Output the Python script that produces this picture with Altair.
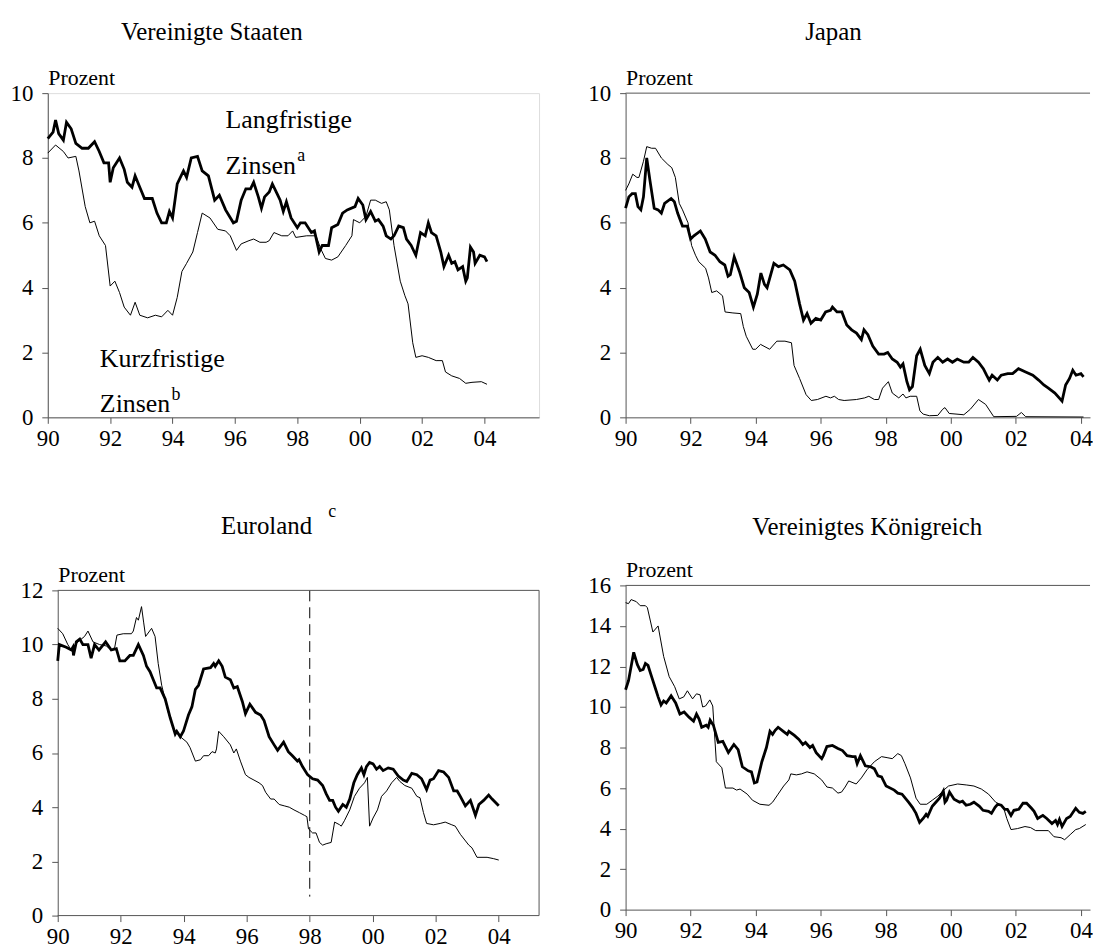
import altair as alt
import pandas as pd

FONT = "Liberation Serif, Times New Roman, DejaVu Serif, serif"
GREY = "#555555"
TICK_YEARS = [1990, 1992, 1994, 1996, 1998, 2000, 2002, 2004]

# ---------------- data (year, percent) ----------------
us_long = [(1990.0,8.6),(1990.17,8.8),(1990.25,9.17),(1990.35,8.75),(1990.5,8.55),(1990.6,9.1),(1990.75,8.9),(1990.9,8.45),(1991.1,8.3),(1991.3,8.3),
           (1991.5,8.5),(1991.65,8.2),(1991.8,7.85),(1991.95,7.85),(1992.0,7.25),(1992.1,7.7),(1992.3,8.0),(1992.45,7.65),(1992.55,7.25),(1992.7,7.1),
           (1992.8,7.45),(1992.95,7.1),(1993.1,6.75),(1993.35,6.75),(1993.5,6.3),(1993.65,6.0),(1993.8,6.0),(1993.9,6.35),(1994.0,6.15),(1994.15,7.2),
           (1994.35,7.6),(1994.45,7.4),(1994.6,8.0),(1994.8,8.05),(1994.95,7.6),(1995.15,7.45),(1995.35,6.7),(1995.5,6.85),(1995.7,6.4),(1995.95,6.0),
           (1996.05,6.05),(1996.2,6.7),(1996.35,7.05),(1996.5,7.05),(1996.6,7.25),(1996.75,6.8),(1996.85,6.45),(1996.95,6.8),(1997.1,6.95),(1997.2,7.2),
           (1997.35,6.9),(1997.45,6.7),(1997.55,6.35),(1997.65,6.65),(1997.8,6.15),(1998.0,5.85),(1998.1,6.0),(1998.25,6.0),(1998.45,5.7),(1998.55,5.75),
           (1998.7,5.1),(1998.8,5.3),(1999.0,5.3),(1999.1,5.85),(1999.3,5.95),(1999.45,6.3),(1999.6,6.4),(1999.85,6.5),(1999.95,6.75),(2000.1,6.55),
           (2000.2,6.1),(2000.35,6.35),(2000.5,6.05),(2000.6,6.1),(2000.75,5.9),(2000.85,5.6),(2001.0,5.5),(2001.1,5.6),(2001.25,5.9),(2001.4,5.85),
           (2001.5,5.5),(2001.65,5.3),(2001.8,5.0),(2001.95,5.7),(2002.1,5.6),(2002.2,6.0),(2002.3,5.7),(2002.45,5.6),(2002.6,5.1),(2002.7,4.65),
           (2002.85,5.0),(2002.95,4.75),(2003.05,4.8),(2003.15,4.55),(2003.3,4.65),(2003.4,4.2),(2003.45,4.3),(2003.55,5.25),(2003.65,5.1),(2003.7,4.75),
           (2003.85,5.0),(2004.0,4.95),(2004.08,4.8)]

us_short = [(1990.0,8.15),(1990.25,8.4),(1990.5,8.2),(1990.65,8.0),(1990.9,8.05),(1991.0,7.6),(1991.2,6.5),(1991.35,6.0),(1991.5,6.05),(1991.65,5.6),
            (1991.85,5.3),(1992.0,4.05),(1992.15,4.2),(1992.3,3.85),(1992.45,3.4),(1992.65,3.15),(1992.8,3.55),(1992.95,3.15),(1993.2,3.07),(1993.45,3.15),
            (1993.65,3.1),(1993.85,3.3),(1994.0,3.15),(1994.15,3.7),(1994.3,4.5),(1994.45,4.75),(1994.65,5.1),(1994.8,5.7),(1994.95,6.3),(1995.2,6.15),
            (1995.45,5.8),(1995.7,5.75),(1995.85,5.6),(1996.05,5.15),(1996.2,5.35),(1996.45,5.45),(1996.6,5.5),(1996.8,5.4),(1997.0,5.4),(1997.1,5.45),
            (1997.25,5.7),(1997.5,5.6),(1997.7,5.6),(1997.85,5.75),(1997.95,5.55),(1998.3,5.6),(1998.6,5.6),(1998.75,5.2),(1998.9,4.9),(1999.1,4.85),
            (1999.3,4.95),(1999.55,5.3),(1999.75,5.6),(1999.8,6.1),(2000.0,6.0),(2000.2,6.2),(2000.35,6.7),(2000.5,6.7),(2000.7,6.6),(2000.85,6.65),
            (2000.95,6.4),(2001.1,5.3),(2001.3,4.2),(2001.45,3.75),(2001.55,3.5),(2001.7,2.3),(2001.8,1.85),(2002.0,1.9),(2002.2,1.85),(2002.45,1.75),
            (2002.65,1.75),(2002.75,1.4),(2002.95,1.28),(2003.2,1.2),(2003.4,1.05),(2003.6,1.08),(2003.9,1.1),(2004.08,1.02)]

jp_long = [(1990.0,6.45),(1990.1,6.8),(1990.2,6.9),(1990.3,6.9),(1990.38,6.5),(1990.47,6.4),(1990.55,6.8),(1990.65,8.0),(1990.75,7.3),(1990.88,6.45),
           (1991.0,6.4),(1991.1,6.3),(1991.2,6.6),(1991.4,6.75),(1991.5,6.65),(1991.6,6.3),(1991.75,5.9),(1991.9,5.9),(1992.0,5.5),(1992.1,5.6),
           (1992.3,5.75),(1992.45,5.5),(1992.6,5.1),(1992.75,5.0),(1992.9,4.8),(1993.05,4.7),(1993.15,4.35),(1993.22,4.4),(1993.34,4.95),(1993.5,4.5),
           (1993.65,4.0),(1993.8,3.85),(1993.93,3.4),(1994.05,3.8),(1994.16,4.45),(1994.27,4.1),(1994.35,4.0),(1994.56,4.75),(1994.7,4.65),(1994.85,4.7),
           (1995.05,4.55),(1995.2,4.2),(1995.35,3.5),(1995.47,3.0),(1995.58,3.2),(1995.7,2.9),(1995.85,3.05),(1996.0,3.0),(1996.15,3.25),(1996.3,3.3),
           (1996.36,3.4),(1996.5,3.25),(1996.65,3.25),(1996.8,2.85),(1996.95,2.7),(1997.1,2.6),(1997.25,2.4),(1997.33,2.7),(1997.45,2.55),(1997.6,2.2),
           (1997.78,1.95),(1997.95,1.95),(1998.06,2.0),(1998.2,1.8),(1998.35,1.7),(1998.45,1.55),(1998.53,1.65),(1998.65,1.1),(1998.73,0.85),(1998.82,0.95),
           (1998.95,1.9),(1999.06,2.1),(1999.2,1.6),(1999.34,1.35),(1999.45,1.7),(1999.6,1.85),(1999.75,1.7),(1999.9,1.8),(2000.05,1.7),(2000.2,1.8),
           (2000.4,1.7),(2000.55,1.7),(2000.68,1.85),(2000.85,1.7),(2001.0,1.5),(2001.1,1.3),(2001.18,1.15),(2001.27,1.3),(2001.43,1.15),(2001.55,1.3),
           (2001.75,1.35),(2001.9,1.35),(2002.08,1.5),(2002.3,1.4),(2002.52,1.3),(2002.7,1.15),(2002.86,1.0),(2003.0,0.9),(2003.2,0.75),(2003.42,0.5),
           (2003.53,1.0),(2003.65,1.2),(2003.75,1.45),(2003.85,1.3),(2004.0,1.35),(2004.08,1.25)]

jp_short = [(1990.0,7.0),(1990.1,7.2),(1990.22,7.5),(1990.35,7.4),(1990.41,7.4),(1990.55,7.9),(1990.65,8.35),(1990.8,8.3),(1990.92,8.3),(1991.1,8.0),
            (1991.3,7.8),(1991.42,7.7),(1991.53,7.4),(1991.65,6.6),(1991.75,6.4),(1991.92,6.0),(1992.03,5.3),(1992.15,5.0),(1992.25,4.8),(1992.46,4.6),
            (1992.55,4.3),(1992.65,3.85),(1992.8,3.9),(1992.98,3.75),(1993.06,3.25),(1993.3,3.22),(1993.54,3.2),(1993.62,2.8),(1993.71,2.5),(1993.91,2.1),
            (1994.0,2.1),(1994.15,2.25),(1994.43,2.1),(1994.65,2.35),(1994.9,2.35),(1995.1,2.3),(1995.18,1.6),(1995.35,1.2),(1995.55,0.7),(1995.71,0.52),
            (1995.9,0.55),(1996.16,0.65),(1996.3,0.6),(1996.42,0.65),(1996.55,0.55),(1996.72,0.52),(1997.1,0.55),(1997.35,0.6),(1997.48,0.65),(1997.65,0.55),
            (1997.78,0.55),(1997.9,0.9),(1998.08,1.1),(1998.2,0.75),(1998.4,0.6),(1998.53,0.72),(1998.62,0.6),(1998.75,0.65),(1998.95,0.65),(1999.05,0.2),
            (1999.15,0.1),(1999.34,0.05),(1999.6,0.06),(1999.75,0.25),(1999.82,0.3),(1999.95,0.12),(2000.4,0.08),(2000.6,0.25),(2000.85,0.55),(2001.07,0.4),
            (2001.32,0.02),(2002.02,0.03),(2002.17,0.15),(2002.3,0.02),(2004.08,0.01)]

eu_long = [(1990.0,9.4),(1990.05,10.0),(1990.27,9.9),(1990.43,9.8),(1990.48,9.9),(1990.5,9.6),(1990.59,10.1),(1990.7,10.2),(1990.8,10.0),(1990.96,10.0),
           (1991.06,9.5),(1991.17,10.0),(1991.31,9.8),(1991.52,10.1),(1991.7,9.8),(1991.86,9.85),(1991.97,9.4),(1992.13,9.4),(1992.29,9.6),(1992.4,9.6),
           (1992.56,10.0),(1992.72,9.6),(1992.82,9.2),(1992.93,9.0),(1993.14,8.4),(1993.25,8.4),(1993.41,8.0),(1993.57,7.3),(1993.73,6.7),(1993.78,6.8),
           (1993.89,6.6),(1993.99,6.8),(1994.15,7.4),(1994.26,7.7),(1994.37,8.35),(1994.47,8.5),(1994.63,9.1),(1994.85,9.15),(1994.95,9.3),(1995.0,9.2),
           (1995.11,9.4),(1995.22,9.2),(1995.32,8.8),(1995.48,8.7),(1995.59,8.4),(1995.7,8.45),(1995.86,7.9),(1995.96,7.45),(1996.1,7.8),(1996.28,7.5),
           (1996.44,7.4),(1996.55,7.2),(1996.71,6.6),(1996.87,6.3),(1996.98,6.1),(1997.17,6.4),(1997.32,6.05),(1997.45,5.9),(1997.61,5.7),(1997.66,5.75),
           (1997.77,5.5),(1997.93,5.2),(1998.09,5.05),(1998.25,5.0),(1998.41,4.8),(1998.52,4.5),(1998.63,4.25),(1998.73,4.25),(1998.82,4.0),(1998.91,3.85),
           (1999.05,4.1),(1999.16,4.0),(1999.27,4.3),(1999.4,4.9),(1999.51,5.2),(1999.64,5.45),(1999.72,5.2),(1999.8,5.5),(1999.9,5.65),(2000.01,5.6),
           (2000.12,5.4),(2000.22,5.5),(2000.33,5.35),(2000.49,5.45),(2000.65,5.4),(2000.81,5.15),(2000.97,5.0),(2001.08,4.95),(2001.24,5.25),(2001.4,5.2),
           (2001.55,5.05),(2001.71,4.65),(2001.82,5.0),(2001.93,5.05),(2002.09,5.35),(2002.25,5.3),(2002.41,5.1),(2002.57,4.6),(2002.68,4.6),(2002.78,4.4),
           (2002.94,4.05),(2003.1,4.25),(2003.26,3.7),(2003.37,4.1),(2003.52,4.25),(2003.68,4.45),(2003.79,4.3),(2004.0,4.05)]

eu_short = [(1990.0,10.6),(1990.16,10.4),(1990.32,10.0),(1990.43,9.8),(1990.5,9.9),(1990.64,10.1),(1990.85,10.3),(1990.96,10.5),(1991.12,10.1),(1991.33,10.0),
            (1991.54,9.95),(1991.7,9.8),(1991.81,9.9),(1991.88,10.35),(1992.08,10.4),(1992.34,10.4),(1992.4,10.5),(1992.5,11.0),(1992.56,10.9),(1992.66,11.4),
            (1992.73,10.8),(1992.79,10.3),(1992.98,10.6),(1993.09,10.3),(1993.19,9.3),(1993.3,8.5),(1993.51,7.5),(1993.67,6.9),(1993.89,6.6),(1994.1,6.4),
            (1994.2,6.2),(1994.37,5.7),(1994.53,5.75),(1994.63,5.9),(1994.79,5.9),(1994.9,6.05),(1995.0,6.0),(1995.04,6.15),(1995.11,6.8),(1995.27,6.6),
            (1995.48,6.3),(1995.59,6.0),(1995.67,6.15),(1995.8,5.7),(1995.96,5.2),(1996.07,5.1),(1996.23,5.0),(1996.39,4.9),(1996.5,4.8),(1996.6,4.55),
            (1996.76,4.3),(1996.87,4.3),(1997.03,4.1),(1997.19,4.05),(1997.35,4.0),(1997.5,3.9),(1997.67,3.8),(1997.83,3.7),(1997.91,3.65),(1997.96,3.2),
            (1998.09,3.05),(1998.2,3.05),(1998.31,2.7),(1998.41,2.6),(1998.52,2.65),(1998.68,2.7),(1998.79,3.45),(1998.95,3.35),(1999.0,3.3),(1999.1,3.5),
            (1999.27,3.9),(1999.42,4.4),(1999.58,4.7),(1999.74,4.9),(1999.83,5.1),(1999.9,3.3),(2000.01,3.6),(2000.15,3.9),(2000.28,4.4),(2000.44,4.6),
            (2000.6,4.9),(2000.76,5.1),(2000.86,4.95),(2001.02,4.8),(2001.24,4.7),(2001.4,4.4),(2001.5,4.35),(2001.61,3.8),(2001.71,3.4),(2001.93,3.35),
            (2002.14,3.4),(2002.3,3.45),(2002.51,3.35),(2002.62,3.3),(2002.78,3.0),(2003.05,2.6),(2003.15,2.5),(2003.31,2.15),(2003.63,2.15),(2003.84,2.1),
            (2004.0,2.05)]

uk_long = [(1990.0,10.85),(1990.09,11.3),(1990.25,12.7),(1990.36,12.1),(1990.45,11.8),(1990.54,11.85),(1990.61,12.15),(1990.69,12.05),(1990.8,11.5),(1990.92,10.9),
           (1991.0,10.5),(1991.09,10.1),(1991.17,10.3),(1991.25,10.2),(1991.4,10.55),(1991.54,10.2),(1991.67,9.65),(1991.8,9.75),(1991.95,9.5),(1992.09,9.3),
           (1992.18,9.65),(1992.26,9.4),(1992.34,9.0),(1992.48,9.1),(1992.54,9.0),(1992.6,9.35),(1992.7,9.1),(1992.85,8.25),(1992.99,8.3),(1993.16,7.75),
           (1993.33,8.15),(1993.46,7.9),(1993.59,7.05),(1993.77,6.85),(1993.87,6.8),(1993.96,6.25),(1994.04,6.3),(1994.19,7.3),(1994.33,8.0),(1994.44,8.8),
           (1994.52,8.65),(1994.6,8.85),(1994.69,9.0),(1994.85,8.8),(1994.97,8.65),(1995.02,8.8),(1995.19,8.6),(1995.33,8.4),(1995.45,8.15),(1995.53,8.25),
           (1995.67,8.0),(1995.75,8.1),(1995.86,7.75),(1996.03,7.45),(1996.08,7.6),(1996.19,8.05),(1996.36,8.1),(1996.53,7.95),(1996.67,7.85),(1996.81,7.6),
           (1996.98,7.55),(1997.06,7.55),(1997.12,7.2),(1997.22,7.6),(1997.37,7.1),(1997.54,7.05),(1997.65,6.95),(1997.76,6.6),(1997.87,6.55),(1998.01,6.1),
           (1998.26,5.9),(1998.37,5.75),(1998.5,5.7),(1998.7,5.3),(1998.82,5.05),(1998.93,4.75),(1999.04,4.3),(1999.15,4.5),(1999.24,4.7),(1999.29,4.6),
           (1999.43,5.1),(1999.54,5.3),(1999.65,5.5),(1999.77,5.85),(1999.82,5.3),(1999.87,5.4),(1999.96,5.8),(2000.1,5.45),(2000.27,5.3),(2000.36,5.35),
           (2000.47,5.15),(2000.6,5.2),(2000.71,5.3),(2000.88,5.1),(2000.99,4.9),(2001.16,4.85),(2001.25,4.75),(2001.36,5.05),(2001.44,5.2),(2001.55,5.15),
           (2001.66,4.95),(2001.74,4.95),(2001.85,4.65),(2001.94,4.9),(2002.09,4.95),(2002.22,5.25),(2002.33,5.25),(2002.48,5.0),(2002.56,4.85),(2002.67,4.5),
           (2002.83,4.65),(2002.95,4.5),(2003.11,4.25),(2003.22,4.4),(2003.28,4.2),(2003.34,4.45),(2003.42,4.1),(2003.56,4.5),(2003.67,4.6),(2003.84,5.0),
           (2003.95,4.8),(2004.06,4.75),(2004.15,4.85)]

uk_short = [(1990.0,15.15),(1990.09,15.1),(1990.17,15.3),(1990.33,15.2),(1990.45,15.0),(1990.61,15.0),(1990.67,14.9),(1990.84,13.7),(1991.0,14.0),(1991.17,12.5),
            (1991.34,11.5),(1991.51,11.0),(1991.65,10.4),(1991.79,10.5),(1991.9,10.8),(1992.06,10.4),(1992.18,10.65),(1992.29,10.6),(1992.37,10.0),(1992.46,10.05),
            (1992.59,10.35),(1992.68,10.05),(1992.79,7.3),(1992.96,7.0),(1993.07,6.0),(1993.3,6.0),(1993.41,5.9),(1993.52,5.95),(1993.74,5.7),(1993.9,5.4),
            (1994.13,5.2),(1994.41,5.15),(1994.52,5.3),(1994.69,5.7),(1994.86,6.1),(1995.02,6.4),(1995.08,6.7),(1995.25,6.65),(1995.41,6.7),(1995.58,6.8),
            (1995.8,6.7),(1996.03,6.4),(1996.19,6.05),(1996.36,6.0),(1996.53,5.75),(1996.64,5.8),(1996.75,6.05),(1996.86,6.35),(1997.09,6.2),(1997.25,6.5),
            (1997.42,6.9),(1997.65,7.3),(1997.87,7.55),(1998.04,7.5),(1998.2,7.45),(1998.37,7.7),(1998.48,7.6),(1998.59,7.2),(1998.76,6.5),(1998.93,5.5),
            (1999.06,5.2),(1999.26,5.2),(1999.43,5.4),(1999.6,5.6),(1999.82,5.95),(1999.93,6.1),(2000.21,6.2),(2000.49,6.15),(2000.71,6.1),(2000.94,5.95),
            (2001.16,5.7),(2001.38,5.3),(2001.61,5.1),(2001.72,4.5),(2001.85,3.95),(2002.05,4.0),(2002.28,4.1),(2002.45,4.05),(2002.61,3.9),(2003.0,3.9),
            (2003.17,3.6),(2003.39,3.55),(2003.5,3.45),(2003.67,3.7),(2003.84,3.95),(2003.95,4.0),(2004.15,4.2)]

# annotation texts (US panel) and euro changeover year
us_labels = [("Langfristige", 1995.7, 8.94), ("Zinsen", 1995.7, 7.52),
             ("Kurzfristige", 1991.67, 1.55), ("Zinsen", 1991.67, 0.15)]
us_superscripts = [("a", 1995.7, 7.52), ("b", 1991.67, 0.15)]
euro_line = [(1998.0, 12.0, 0.7)]

ONE = pd.DataFrame({"k": [0]})


def to_df(pairs):
    return pd.DataFrame(pairs, columns=["year", "value"])


def marker(x, y):
    return alt.Chart(ONE).mark_point(opacity=0, size=1, filled=True).encode(
        x=alt.value(x), y=alt.value(y))


def pixel_text(text, x, y, size, align="center"):
    return alt.Chart(ONE).mark_text(text=text, font=FONT, fontSize=size, align=align,
                                    baseline="alphabetic", color="black").encode(
        x=alt.value(x), y=alt.value(y))


def hrule(x1, x2, y):
    return alt.Chart(ONE).mark_rule(color=GREY, strokeWidth=1).encode(
        x=alt.value(x1), x2=alt.value(x2), y=alt.value(y))


def vrule(x, y1, y2):
    return alt.Chart(ONE).mark_rule(color=GREY, strokeWidth=1).encode(
        x=alt.value(x), y=alt.value(y1), y2=alt.value(y2))


def panel(long_pairs, short_pairs, ymax, xmax, width, height, frame, extras,
          top, bottom, inset=0, left=39):
    xscale = alt.Scale(domain=[1990, xmax], nice=False, zero=False)
    if inset:
        xscale = alt.Scale(domain=[1990, xmax], nice=False, zero=False, range=[inset, width])
    x_enc = alt.X("year:Q", scale=xscale,
                  axis=alt.Axis(values=TICK_YEARS, labelExpr="substring(toString(datum.value), 2, 4)",
                                title=None, grid=False, tickSize=6, tickColor=GREY, domainColor=GREY,
                                domain=(inset == 0),
                                labelFont=FONT, labelFontSize=23, labelColor="black", labelPadding=4,
                                labelFlush=False, labelOverlap=False))
    y_axis = dict(values=list(range(0, ymax + 1, 2)), title="Prozent", titleAngle=0,
                  titleX=0, titleY=-9, titleAlign="left", titleBaseline="alphabetic",
                  titleFont=FONT, titleFontSize=22, titleFontWeight="normal",
                  titleColor="black", grid=False, tickSize=6, tickColor=GREY,
                  domainColor=GREY, labelFont=FONT, labelFontSize=23,
                  labelColor="black", labelPadding=9, labelOverlap=False)
    if inset:
        y_axis["offset"] = -inset
    y_enc = alt.Y("value:Q", scale=alt.Scale(domain=[0, ymax], nice=False, zero=True),
                  axis=alt.Axis(**y_axis))
    thin = alt.Chart(to_df(short_pairs)).mark_line(color="black", strokeWidth=1).encode(x=x_enc, y=y_enc)
    thick = alt.Chart(to_df(long_pairs)).mark_line(color="black", strokeWidth=2.8).encode(x=x_enc, y=y_enc)
    layers = [thin, thick] + extras + [marker(-left, -top), marker(-left, height + bottom)]
    if frame == "top":
        layers.append(hrule(0, width, 0))
    elif frame == "inset":
        layers += [hrule(inset, width, 0), hrule(inset, width, height), vrule(width, 0, height)]
    ch = alt.layer(*layers).properties(width=width, height=height)
    if frame != "box":
        ch = ch.properties(view=alt.ViewBackground(stroke="transparent"))
    return ch


# US annotations
lab_df = pd.DataFrame(us_labels, columns=["label", "year", "value"])
sup_df = pd.DataFrame(us_superscripts, columns=["label", "year", "value"])
us_text = alt.Chart(lab_df).mark_text(font=FONT, fontSize=26, align="left", baseline="alphabetic",
                                      color="black").encode(x="year:Q", y="value:Q", text="label:N")
us_sup = alt.Chart(sup_df).mark_text(font=FONT, fontSize=18, align="left", baseline="alphabetic",
                                     color="black", dx=72, dy=-13).encode(x="year:Q", y="value:Q", text="label:N")

euro_df = pd.DataFrame(euro_line, columns=["year", "value", "value2"])
euro_rule = alt.Chart(euro_df).mark_rule(color="black", strokeWidth=1, strokeDash=[11, 6]).encode(
    x="year:Q", y="value:Q", y2="value2:Q")

EU_INSET = 10

us = panel(us_long, us_short, 10, 2005.75, 494, 326, "box",
           [us_text, us_sup, pixel_text("Vereinigte Staaten", 165, -53, 25)], 80, 36)
jp = panel(jp_long, jp_short, 10, 2004.28, 467, 326, "top",
           [pixel_text("Japan", 209, -53, 25)], 80, 36)
eu = panel(eu_long, eu_short, 12, 2005.28, 494, 327, "inset",
           [euro_rule, pixel_text("Euroland", 210 + EU_INSET, -57, 25),
            pixel_text("c", 272 + EU_INSET, -74, 18, "left")],
           90, 26, inset=EU_INSET)
uk = panel(uk_long, uk_short, 16, 2004.28, 467, 326, "top",
           [pixel_text("Vereinigtes Königreich", 243, -51, 25)], 85, 26)

chart = alt.concat(us, jp, eu, uk, columns=2, align="none",
                   spacing={"row": 46, "column": 46}).properties(
    padding={"left": 0, "top": 2, "right": 0, "bottom": 0}
).configure_view(stroke=GREY, strokeWidth=1).configure(background="white")

chart.save("out.html", embed_options={"renderer": "svg", "actions": False})
